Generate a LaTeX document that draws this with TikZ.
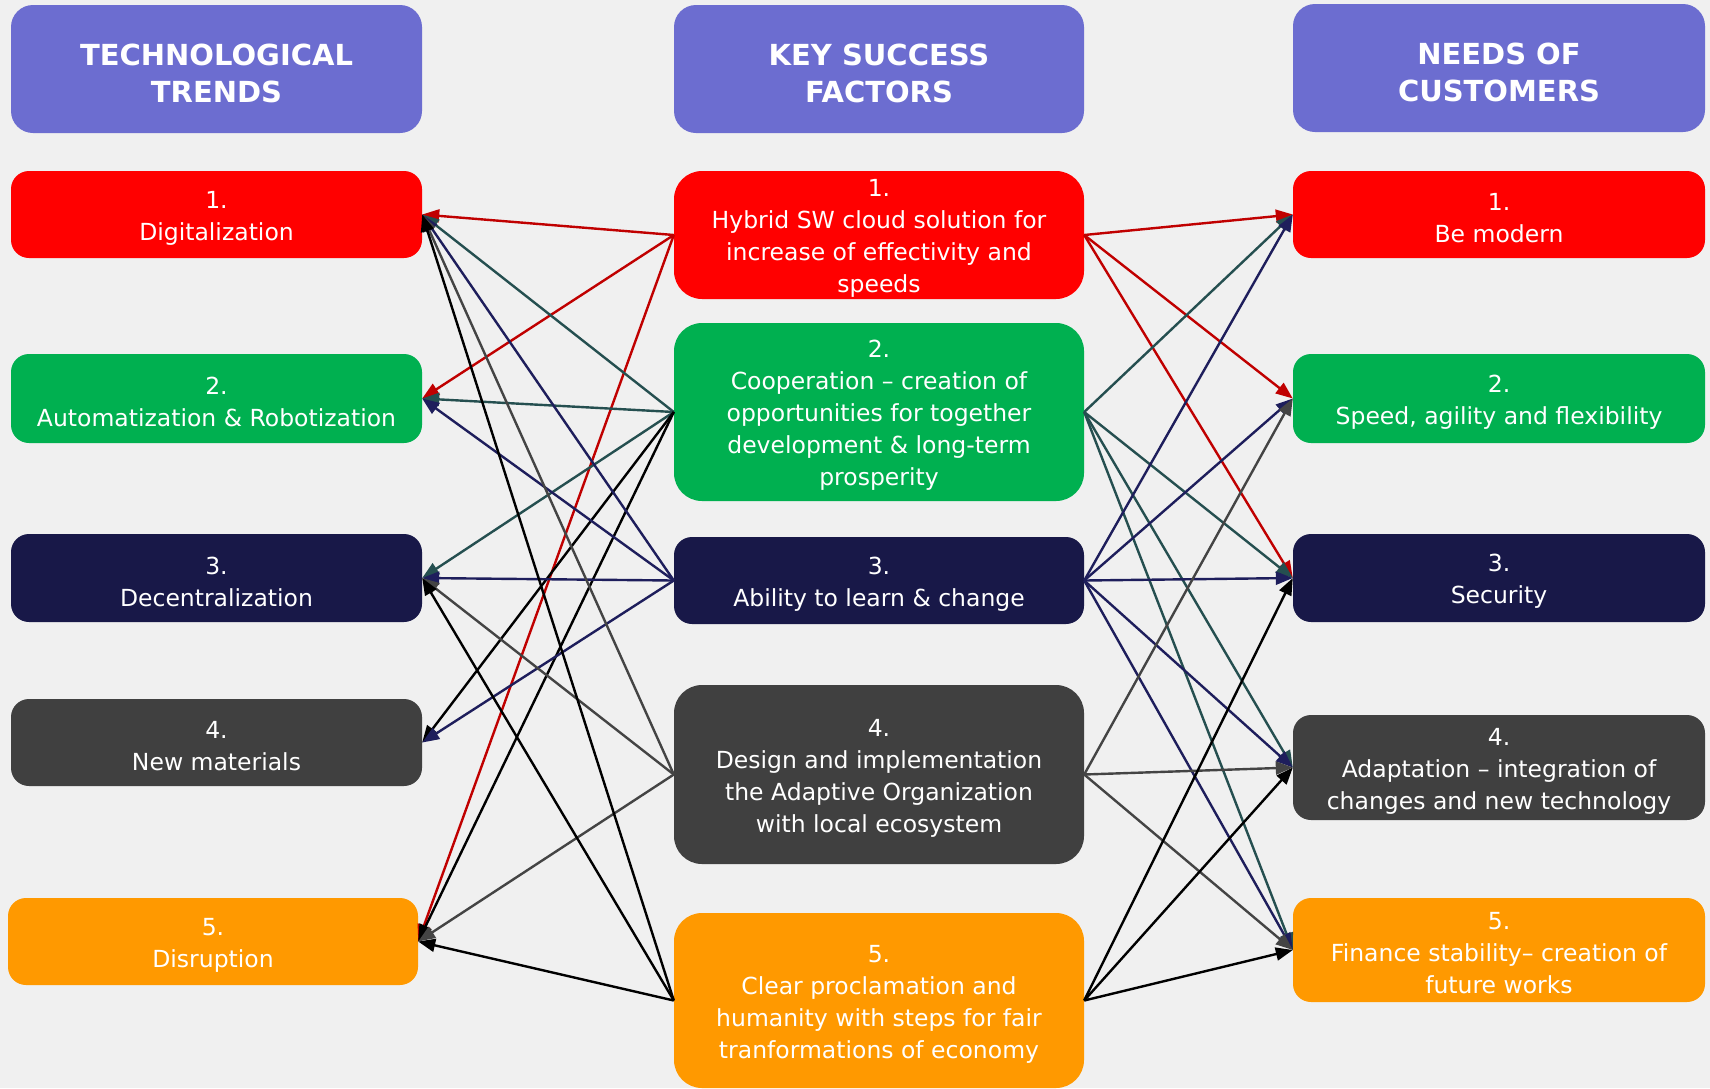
\documentclass[tikz,border=0pt]{standalone}
\usepackage{fontspec}
\setmainfont{DejaVu Sans}
\usetikzlibrary{arrows.meta}

\definecolor{bgcol}{RGB}{240,240,240}
\definecolor{headcol}{RGB}{108,109,208}
\definecolor{boxred}{RGB}{255,0,0}
\definecolor{boxgreen}{RGB}{0,176,80}
\definecolor{boxnavy}{RGB}{24,24,72}
\definecolor{boxgray}{RGB}{64,64,64}
\definecolor{boxorange}{RGB}{255,153,0}
\definecolor{linkred}{RGB}{192,0,0}
\definecolor{linkteal}{RGB}{37,79,80}
\definecolor{linknavy}{RGB}{30,30,92}
\definecolor{linkgray}{RGB}{68,68,68}

\begin{document}
\begin{tikzpicture}[x=1pt,y=-1pt,
  card/.style={rounded corners=18pt, inner sep=0pt, minimum width=411pt},
  bigcard/.style={card, rounded corners=28pt},
  head/.style={card, fill=headcol, rounded corners=22pt, minimum height=128pt},
  txt/.style={text=white, align=center, inner sep=0pt, yshift=-3.5pt,
    font=\fontsize{23.5}{32}\selectfont},
  headtxt/.style={text=white, align=center, inner sep=0pt, yshift=-4.5pt,
    font=\bfseries\fontsize{29}{37}\selectfont},
  link/.style={line width=2.4pt, -{Triangle[length=17pt,width=13pt]}}]

\fill[bgcol] (0,0) rectangle (1710,1088);
\useasboundingbox (0,0) rectangle (1710,1088);

% column headers
\node[head, label={[headtxt]center:{TECHNOLOGICAL\\TRENDS}}] (HL) at (216.5,69) {};
\node[head, minimum width=410pt, label={[headtxt]center:{KEY SUCCESS\\FACTORS}}] (HM) at (879,69) {};
\node[head, minimum width=412pt, label={[headtxt]center:{NEEDS OF\\CUSTOMERS}}] (HR) at (1499,68) {};

% technological trends
\node[card, fill=boxred, minimum height=87pt,
  label={[txt]center:{1.\\Digitalization}}] (L1) at (216.5,214.5) {};
\node[card, fill=boxgreen, minimum height=89pt,
  label={[txt]center:{2.\\Automatization \& Robotization}}] (L2) at (216.5,398.5) {};
\node[card, fill=boxnavy, minimum height=88pt,
  label={[txt]center:{3.\\Decentralization}}] (L3) at (216.5,578) {};
\node[card, fill=boxgray, minimum height=87pt,
  label={[txt]center:{4.\\New materials}}] (L4) at (216.5,742.5) {};
\node[card, fill=boxorange, minimum height=87pt, minimum width=410pt,
  label={[txt]center:{5.\\Disruption}}] (L5) at (213,941.5) {};

% key success factors
\node[bigcard, fill=boxred, minimum width=410pt, minimum height=128pt,
  label={[txt]center:{1.\\Hybrid SW cloud solution for\\increase of effectivity and\\speeds}}]
  (M1) at (879,235) {};
\node[bigcard, fill=boxgreen, minimum width=410pt, minimum height=178pt,
  label={[txt]center:{2.\\Cooperation – creation of\\opportunities for together\\development \& long-term\\prosperity}}]
  (M2) at (879,412) {};
\node[card, fill=boxnavy, minimum width=410pt, minimum height=87pt,
  label={[txt]center:{3.\\Ability to learn \& change}}]
  (M3) at (879,580.5) {};
\node[bigcard, fill=boxgray, minimum width=410pt, minimum height=179pt,
  label={[txt]center:{4.\\Design and implementation\\the Adaptive Organization\\with local ecosystem}}]
  (M4) at (879,774.5) {};
\node[bigcard, fill=boxorange, minimum width=410pt, minimum height=175pt,
  label={[txt]center:{5.\\Clear proclamation and\\humanity with steps for fair\\tranformations of economy}}]
  (M5) at (879,1000.5) {};

% needs of customers
\node[card, fill=boxred, minimum width=412pt, minimum height=87pt,
  label={[txt]center:{1.\\Be modern}}] (R1) at (1499,214.5) {};
\node[card, fill=boxgreen, minimum width=412pt, minimum height=89pt,
  label={[txt]center:{2.\\Speed, agility and  flexibility}}] (R2) at (1499,398.5) {};
\node[card, fill=boxnavy, minimum width=412pt, minimum height=88pt,
  label={[txt]center:{3.\\Security}}] (R3) at (1499,578) {};
\node[card, fill=boxgray, minimum width=412pt, minimum height=105pt,
  label={[txt]center:{4.\\Adaptation – integration of\\changes and new technology}}] (R4) at (1499,767.5) {};
\node[card, fill=boxorange, minimum width=412pt, minimum height=104pt,
  label={[txt]center:{5.\\Finance stability– creation of\\future works}}] (R5) at (1499,950) {};

% factor 1
\draw[link, linkred] (M1.west) -- (L1.east);
\draw[link, linkred] (M1.west) -- (L2.east);
\draw[link, linkred] (M1.west) -- (L5.east);
\draw[link, linkred] (M1.east) -- (R1.west);
\draw[link, linkred] (M1.east) -- (R2.west);
\draw[link, linkred] (M1.east) -- (R3.west);

% factor 2
\draw[link, linkteal] (M2.west) -- (L1.east);
\draw[link, linkteal] (M2.west) -- (L2.east);
\draw[link, linkteal] (M2.west) -- (L3.east);
\draw[link, black]    (M2.west) -- (L4.east);
\draw[link, black]    (M2.west) -- (L5.east);
\draw[link, linkteal] (M2.east) -- (R1.west);
\draw[link, linkteal] (M2.east) -- (R3.west);
\draw[link, linkteal] (M2.east) -- (R4.west);
\draw[link, linkteal] (M2.east) -- (R5.west);

% factor 3
\draw[link, linknavy] (M3.west) -- (L1.east);
\draw[link, linknavy] (M3.west) -- (L2.east);
\draw[link, linknavy] (M3.west) -- (L3.east);
\draw[link, linknavy] (M3.west) -- (L4.east);
\draw[link, linknavy] (M3.east) -- (R1.west);
\draw[link, linknavy] (M3.east) -- (R2.west);
\draw[link, linknavy] (M3.east) -- (R3.west);
\draw[link, linknavy] (M3.east) -- (R4.west);
\draw[link, linknavy] (M3.east) -- (R5.west);

% factor 4
\draw[link, linkgray] (M4.west) -- (L1.east);
\draw[link, linkgray] (M4.west) -- (L3.east);
\draw[link, linkgray] (M4.west) -- (L5.east);
\draw[link, linkgray] (M4.east) -- (R2.west);
\draw[link, linkgray] (M4.east) -- (R4.west);
\draw[link, linkgray] (M4.east) -- (R5.west);

% factor 5
\draw[link, black] (M5.west) -- (L1.east);
\draw[link, black] (M5.west) -- (L3.east);
\draw[link, black] (M5.west) -- (L5.east);
\draw[link, black] (M5.east) -- (R3.west);
\draw[link, black] (M5.east) -- (R4.west);
\draw[link, black] (M5.east) -- (R5.west);
\end{tikzpicture}
\end{document}
